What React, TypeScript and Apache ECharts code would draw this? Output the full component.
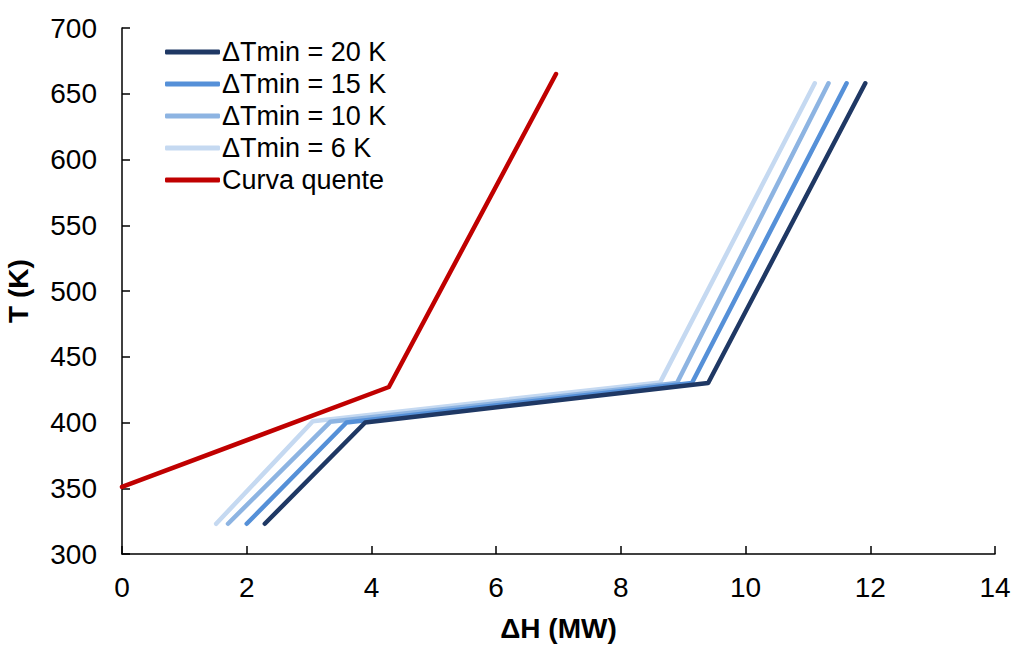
import React, { useEffect, useRef } from "react";
import * as echarts from "echarts";

const seriesNames = ["ΔTmin = 20 K", "ΔTmin = 15 K", "ΔTmin = 10 K", "ΔTmin = 6 K", "Curva quente"];
const colors = ["#1F3864", "#5590D8", "#8DB4E2", "#C5D9F1", "#C00000"];

const cold20: [number, number][] = [[2.29, 323], [3.9, 400], [9.4, 430], [11.92, 658]];
const cold15: [number, number][] = [[2.0, 323], [3.6, 400], [9.14, 430], [11.62, 658]];
const cold10: [number, number][] = [[1.7, 323], [3.34, 400.5], [8.9, 430], [11.33, 658]];
const cold6: [number, number][] = [[1.51, 323], [3.06, 401], [8.63, 430.5], [11.11, 658]];
const hot: [number, number][] = [[0, 351], [4.28, 427], [6.96, 665]];

const allData = [cold20, cold15, cold10, cold6, hot];

export default function App() {
  const ref = useRef<HTMLDivElement>(null);
  useEffect(() => {
    if (!ref.current) return;
    const chart = echarts.init(ref.current, undefined, { renderer: "svg" });
    const font = "'Liberation Sans', Arial, sans-serif";
    chart.setOption({
      animation: false,
      textStyle: { fontFamily: font },
      grid: { left: 122, right: 19, top: 28, bottom: 94, outerBoundsMode: "none", containLabel: false },
      legend: {
        orient: "vertical",
        left: 160,
        top: 33,
        itemWidth: 55,
        itemHeight: 5,
        itemGap: 4,
        icon: "roundRect",
        data: seriesNames,
        textStyle: { fontSize: 27, color: "#000", fontFamily: font, lineHeight: 28, padding: [0, 0, 0, -3] },
      },
      xAxis: {
        type: "value",
        min: 0,
        max: 14,
        interval: 2,
        name: "ΔH (MW)",
        nameLocation: "middle",
        nameGap: 60,
        nameTextStyle: { fontSize: 28, fontWeight: "bold", color: "#000", fontFamily: font },
        axisLine: { show: true, lineStyle: { color: "#000", width: 1.5 } },
        axisTick: { show: true, inside: true, length: 8, lineStyle: { color: "#000", width: 1.5 } },
        axisLabel: { fontSize: 28, color: "#000", margin: 19, fontFamily: font },
        splitLine: { show: false },
      },
      yAxis: {
        type: "value",
        min: 300,
        max: 700,
        interval: 50,
        name: "T (K)",
        nameLocation: "middle",
        nameGap: 90,
        nameTextStyle: { fontSize: 28, fontWeight: "bold", color: "#000", fontFamily: font },
        axisLine: { show: true, lineStyle: { color: "#000", width: 1.5 } },
        axisTick: { show: true, inside: true, length: 8, lineStyle: { color: "#000", width: 1.5 } },
        axisLabel: { fontSize: 28, color: "#000", margin: 25, fontFamily: font },
        splitLine: { show: false },
      },
      series: seriesNames.map((name, i) => ({
        name,
        type: "line",
        data: allData[i],
        showSymbol: false,
        symbol: "none",
        color: colors[i],
        lineStyle: { width: 4.5, color: colors[i], cap: "round", join: "round" },
        z: 10 - i,
      })),
    });
    return () => chart.dispose();
  }, []);
  return <div ref={ref} style={{ width: 1014, height: 648, position: "absolute", left: 0, top: 0 }} />;
}
